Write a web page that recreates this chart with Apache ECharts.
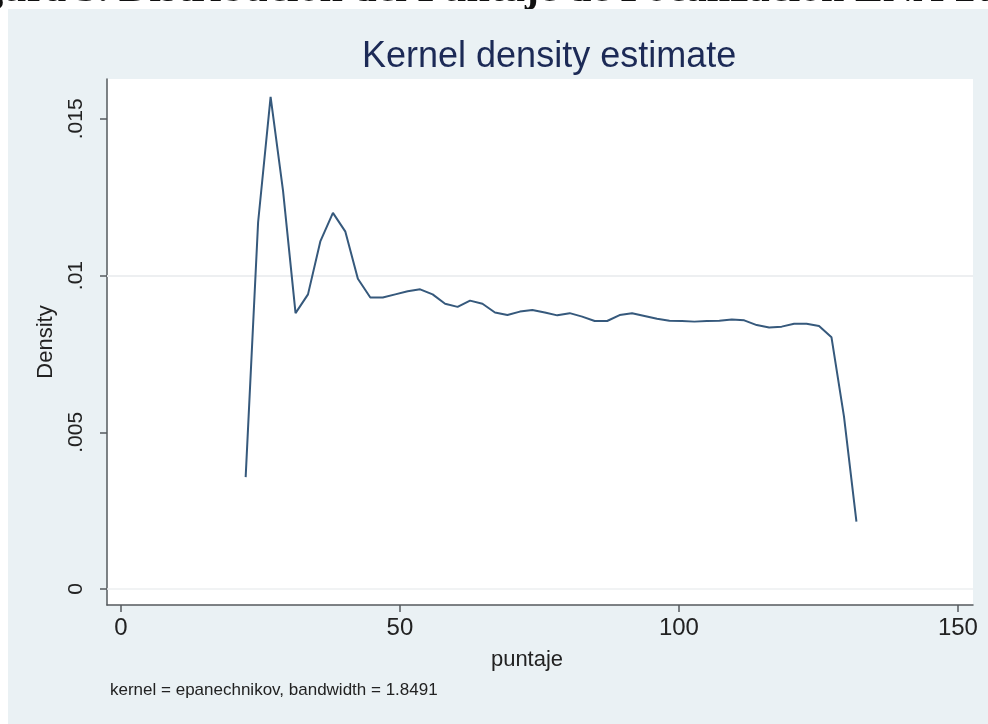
<!DOCTYPE html>
<html>
<head>
<meta charset="utf-8">
<script src="https://cdn.jsdelivr.net/npm/echarts@6/dist/echarts.min.js"></script>
<style>
  html, body { margin: 0; padding: 0; background: #fff; }
  #chart { width: 988px; height: 724px; }
</style>
</head>
<body>
<div id="chart"></div>
<script>
// puntaje (evaluation points of the kernel density)
var puntaje = [22.35, 24.58, 26.82, 29.05, 31.29, 33.52, 35.75, 37.99, 40.22, 42.46,
  44.69, 46.92, 49.16, 51.39, 53.62, 55.86, 58.09, 60.33, 62.56, 64.79,
  67.03, 69.26, 71.50, 73.73, 75.96, 78.20, 80.43, 82.66, 84.90, 87.13,
  89.37, 91.60, 93.83, 96.07, 98.30, 100.54, 102.77, 105.00, 107.24, 109.47,
  111.70, 113.94, 116.17, 118.41, 120.64, 122.87, 125.11, 127.34, 129.58, 131.81];

// density estimate
var density = [0.00357, 0.0117, 0.0157, 0.0127, 0.0088, 0.0094, 0.0111, 0.0120, 0.0114, 0.0099,
  0.0093, 0.0093, 0.0094, 0.0095, 0.00956, 0.0094, 0.0091, 0.0090, 0.0092, 0.0091,
  0.00882, 0.00874, 0.00885, 0.0089, 0.00882, 0.00873, 0.0088, 0.00869, 0.00855, 0.00855,
  0.00874, 0.0088, 0.00871, 0.00862, 0.00856, 0.00855, 0.00853, 0.00855, 0.00856, 0.0086,
  0.00857, 0.00842, 0.00834, 0.00837, 0.00846, 0.00846, 0.00839, 0.00803, 0.0055, 0.00215];

var xTicks = [0, 50, 100, 150];
var yTicks = [0, 0.005, 0.01, 0.015];

var myChart = echarts.init(document.getElementById('chart'));

var points = puntaje.map(function (x, i) { return [x, density[i]]; });

var axisColor = '#555a5e';

var option = {
    animation: false,
    graphic: [
        {
            // caption of the document, cut off at the top of the picture
            type: 'text', z: -200,
            x: -55, y: 11,
            style: {
                text: 'Figura 3. Distribución del Puntaje de Focalización ENA 2015',
                font: 'bold 42px "Liberation Serif", "DejaVu Serif", serif',
                fill: '#111',
                verticalAlign: 'bottom'
            }
        },
        {
            type: 'rect', z: -100,
            shape: { x: 8, y: 9, width: 980, height: 715 },
            style: { fill: '#eaf1f4' }
        },
        {
            type: 'text',
            x: 110, y: 690,
            style: {
                text: 'kernel = epanechnikov, bandwidth = 1.8491',
                font: '17px "Liberation Sans", Arial, sans-serif',
                fill: '#222',
                verticalAlign: 'middle'
            }
        }
    ],
    title: {
        text: 'Kernel density estimate',
        left: 357,
        top: 34,
        textStyle: {
            fontFamily: '"Liberation Sans", Arial, sans-serif',
            fontWeight: 'normal',
            fontSize: 36,
            color: '#1c2a56'
        }
    },
    grid: {
        left: 107,
        right: 15,
        top: 79,
        bottom: 119,
        show: true,
        backgroundColor: '#ffffff',
        borderWidth: 0
    },
    xAxis: {
        type: 'value',
        min: -2.5,
        max: 152.7,
        name: 'puntaje',
        nameLocation: 'middle',
        nameGap: 44,
        nameTextStyle: {
            fontFamily: '"Liberation Sans", Arial, sans-serif',
            fontSize: 22,
            color: '#222',
            padding: [0, 26, 0, 0]
        },
        axisLine: { show: true, onZero: false, lineStyle: { color: axisColor, width: 1.5 } },
        axisTick: { show: true, length: 7, customValues: xTicks, lineStyle: { color: axisColor, width: 1.5 } },
        axisLabel: {
            customValues: xTicks,
            margin: 11,
            fontFamily: '"Liberation Sans", Arial, sans-serif',
            fontSize: 24,
            color: '#222'
        },
        splitLine: { show: false }
    },
    yAxis: {
        type: 'value',
        min: -0.00051,
        max: 0.01627,
        name: 'Density',
        nameLocation: 'middle',
        nameGap: 50,
        nameTextStyle: {
            fontFamily: '"Liberation Sans", Arial, sans-serif',
            fontSize: 22,
            color: '#222'
        },
        axisLine: { show: true, onZero: false, lineStyle: { color: axisColor, width: 1.5 } },
        axisTick: { show: true, length: 7, customValues: yTicks, lineStyle: { color: axisColor, width: 1.5 } },
        axisLabel: {
            customValues: yTicks,
            rotate: 90,
            margin: 20,
            fontFamily: '"Liberation Sans", Arial, sans-serif',
            fontSize: 21,
            color: '#222',
            formatter: function (v) {
                return v === 0 ? '0' : String(v).replace(/^0/, '');
            }
        },
        splitLine: { show: false }
    },
    series: [
        {
            type: 'line',
            data: points,
            showSymbol: false,
            symbol: 'none',
            lineStyle: { color: '#36597c', width: 2 },
            markLine: {
                silent: true,
                symbol: 'none',
                label: { show: false },
                lineStyle: { color: '#eceff0', width: 1.5, type: 'solid' },
                data: yTicks.map(function (v) { return { yAxis: v }; }),
                z: 1
            },
            z: 3
        }
    ]
};

myChart.setOption(option);
</script>
</body>
</html>
